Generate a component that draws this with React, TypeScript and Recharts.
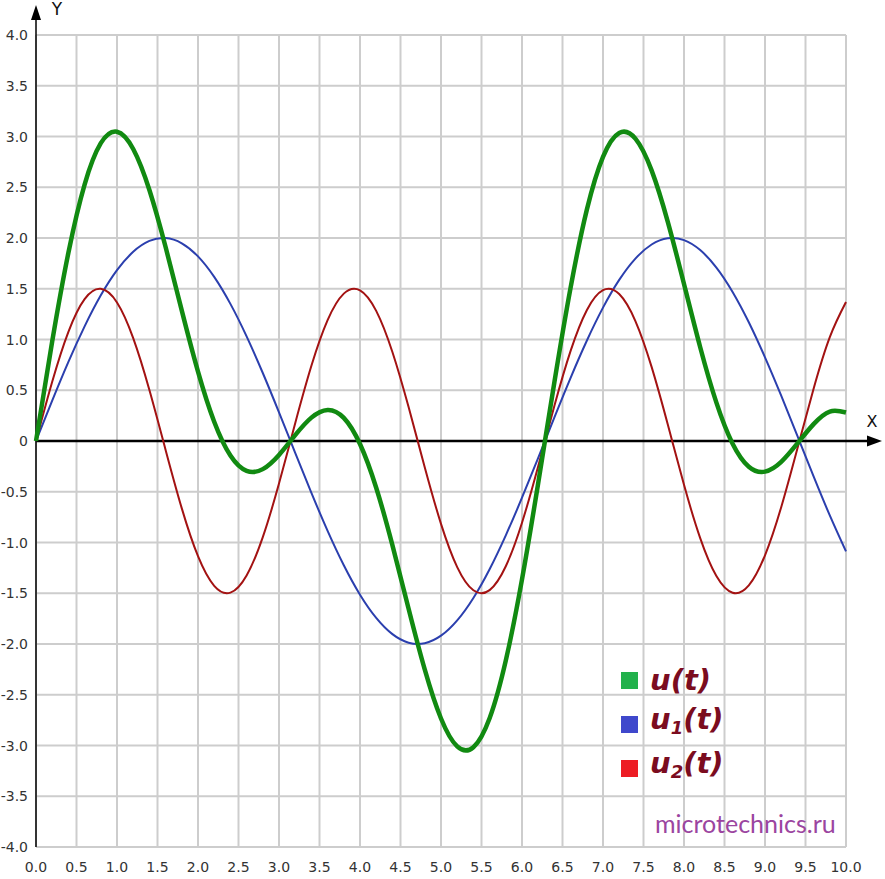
import React from 'react';
import { LineChart, Line, XAxis, YAxis, CartesianGrid, ReferenceLine, Legend } from 'recharts';

// sample points along the time axis
const tValues = [
  0, 0.2, 0.4, 0.6, 0.8, 1.0, 1.2, 1.4, 1.6, 1.8,
  2.0, 2.2, 2.4, 2.6, 2.8, 3.0, 3.2, 3.4, 3.6, 3.8,
  4.0, 4.2, 4.4, 4.6, 4.8, 5.0, 5.2, 5.4, 5.6, 5.8,
  6.0, 6.2, 6.4, 6.6, 6.8, 7.0, 7.2, 7.4, 7.6, 7.8,
  8.0, 8.2, 8.4, 8.6, 8.8, 9.0, 9.2, 9.4, 9.6, 9.8, 10.0,
];

// u(t) - green, thick
const uValues = [
  0, 0.981, 1.855, 2.527, 2.934, 3.047, 2.877, 2.473, 1.911, 1.284,
  0.684, 0.190, -0.143, -0.294, -0.277, -0.137, 0.058, 0.230, 0.306, 0.228,
  -0.030, -0.461, -1.026, -1.653, -2.253, -2.734, -3.009, -3.017, -2.732, -2.163,
  -1.364, -0.414, 0.580, 1.511, 2.277, 2.800, 3.035, 2.979, 2.666, 2.159,
  1.547, 0.924, 0.378, -0.026, -0.253, -0.302, -0.206, -0.024, 0.166, 0.290, 0.281,
];

// u1(t) - blue
const u1Values = [
  0, 0.397, 0.779, 1.129, 1.435, 1.683, 1.864, 1.971, 1.999, 1.948,
  1.819, 1.617, 1.351, 1.031, 0.670, 0.282, -0.117, -0.511, -0.885, -1.224,
  -1.514, -1.743, -1.903, -1.987, -1.992, -1.918, -1.767, -1.546, -1.263, -0.929,
  -0.559, -0.166, 0.233, 0.623, 0.988, 1.314, 1.587, 1.797, 1.936, 1.997,
  1.979, 1.881, 1.709, 1.469, 1.170, 0.824, 0.446, 0.050, -0.349, -0.733, -1.088,
];

// u2(t) - red
const u2Values = [
  0, 0.584, 1.076, 1.398, 1.499, 1.364, 1.013, 0.502, -0.088, -0.664,
  -1.135, -1.427, -1.494, -1.325, -0.947, -0.419, 0.175, 0.741, 1.191, 1.452,
  1.484, 1.282, 0.877, 0.334, -0.261, -0.816, -1.242, -1.471, -1.469, -1.234,
  -0.805, -0.248, 0.347, 0.888, 1.289, 1.486, 1.448, 1.182, 0.730, 0.162,
  -0.432, -0.957, -1.331, -1.495, -1.423, -1.126, -0.652, -0.074, 0.515, 1.023, 1.369,
];

const xTicks = [0, 0.5, 1, 1.5, 2, 2.5, 3, 3.5, 4, 4.5, 5, 5.5, 6, 6.5, 7, 7.5, 8, 8.5, 9, 9.5, 10];
const yTicks = [-4, -3.5, -3, -2.5, -2, -1.5, -1, -0.5, 0, 0.5, 1, 1.5, 2, 2.5, 3, 3.5, 4];

const legendBases = ['u', 'u', 'u'];
const legendSubs = ['', '1', '2'];
const legendColors = ['#22b14c', '#3f48cc', '#ed1c24'];

const data = tValues.map((t, i) => ({ t, u: uValues[i], u1: u1Values[i], u2: u2Values[i] }));

const tickFont = '"DejaVu Sans", Verdana, sans-serif';

const XTick = (props: any) => {
  const { x, y, payload } = props;
  return (
    <text x={x} y={y + 25} textAnchor="middle" fontSize={14} fill="#333" fontFamily={tickFont}>
      {Number(payload.value).toFixed(1)}
    </text>
  );
};

const YTick = (props: any) => {
  const { x, y, payload } = props;
  const v = Number(payload.value);
  return (
    <text x={x - 8} y={y + 5} textAnchor="end" fontSize={14} fill="#333" fontFamily={tickFont}>
      {v === 0 ? '0' : v.toFixed(1)}
    </text>
  );
};

// extends the x axis past the plot and puts the arrow + "X" on it
const XArrow = (props: any) => {
  const vb = props.viewBox || { x: 36, y: 441, width: 810, height: 0 };
  const end = vb.x + vb.width;
  const y = vb.y;
  return (
    <g>
      <line x1={end} y1={y} x2={end + 24} y2={y} stroke="#000" strokeWidth={2.5} />
      <polygon points={`${end + 36},${y} ${end + 21},${y - 5.5} ${end + 21},${y + 5.5}`} fill="#000" />
      <text x={end + 26} y={y - 14} textAnchor="middle" fontSize={16} fill="#111" fontFamily={tickFont}>X</text>
    </g>
  );
};

const YArrow = (props: any) => {
  const vb = props.viewBox || { x: 36, y: 35, width: 0, height: 812 };
  const x = vb.x;
  const top = vb.y;
  return (
    <g>
      <line x1={x} y1={top} x2={x} y2={top - 20} stroke="#000" strokeWidth={1.5} />
      <polygon points={`${x},${top - 30} ${x - 5},${top - 15} ${x + 5},${top - 15}`} fill="#000" />
      <text x={x + 21} y={top - 20} textAnchor="middle" fontSize={17} fill="#111" fontFamily={tickFont}>Y</text>
    </g>
  );
};

const renderLegend = () => (
  <div>
    {legendBases.map((base, i) => (
      <div key={i} style={{ display: 'flex', alignItems: 'center', height: 44 }}>
        <div style={{ width: 17, height: 17, background: legendColors[i], marginRight: 12 }} />
        <span
          style={{
            position: 'relative',
            top: 0,
            fontFamily: tickFont,
            fontStyle: 'italic',
            fontWeight: 'bold',
            fontSize: 29,
            lineHeight: '44px',
            color: '#7b0c1f',
          }}
        >
          {base}
          {legendSubs[i] && <sub style={{ fontSize: '62%', verticalAlign: '-0.3em' }}>{legendSubs[i]}</sub>}
          (t)
        </span>
      </div>
    ))}
  </div>
);

const App: React.FC = () => {
  return (
    <div style={{ position: 'absolute', left: 0, top: 0, width: 885, height: 879, background: '#fff' }}>
      <LineChart width={885} height={879} data={data} margin={{ top: 35, right: 39, bottom: 0, left: 0 }}>
        <CartesianGrid stroke="#cdcdcd" strokeWidth={2} />
        <XAxis
          dataKey="t"
          type="number"
          domain={[0, 10]}
          ticks={xTicks}
          height={32}
          axisLine={false}
          tickLine={false}
          tickSize={0}
          tickMargin={0}
          tick={<XTick />}
          interval={0}
        />
        <YAxis
          type="number"
          domain={[-4, 4]}
          ticks={yTicks}
          width={36}
          axisLine={false}
          tickLine={false}
          tickSize={0}
          tickMargin={0}
          tick={<YTick />}
          interval={0}
        />
        <ReferenceLine y={0} stroke="#000" strokeWidth={2.5} label={XArrow} />
        <ReferenceLine x={0} stroke="#000" strokeWidth={1.5} label={YArrow} />
        <Line type="natural" dataKey="u1" stroke="#2b3fae" strokeWidth={2} dot={false} isAnimationActive={false} />
        <Line type="natural" dataKey="u2" stroke="#a31212" strokeWidth={2} dot={false} isAnimationActive={false} />
        <Line type="natural" dataKey="u" stroke="#118a11" strokeWidth={4.5} dot={false} isAnimationActive={false} />
        <Legend
          layout="horizontal"
          verticalAlign="middle"
          align="center"
          content={renderLegend}
          wrapperStyle={{ left: 621, top: 658, width: 200, height: 132 }}
        />
      </LineChart>
      <div
        style={{
          position: 'absolute',
          left: 655,
          top: 808,
          fontFamily: 'Lato, "Open Sans", sans-serif',
          fontSize: 25,
          lineHeight: '30px',
          color: '#9b45a0',
        }}
      >
        microtechnics.ru
      </div>
    </div>
  );
};

export default App;
